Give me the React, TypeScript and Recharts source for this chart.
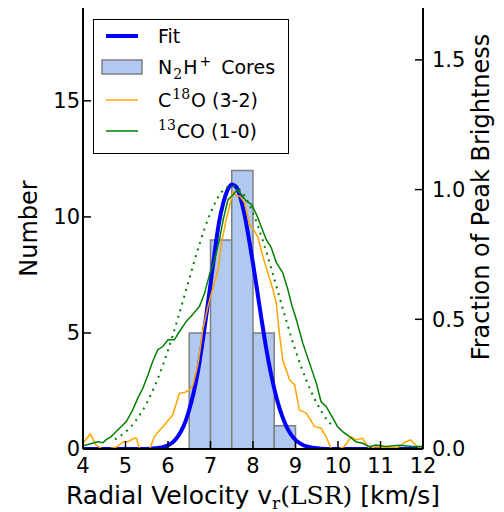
import React from 'react';
import {
  ComposedChart,
  Line,
  XAxis,
  YAxis,
  ReferenceArea,
  Legend
} from 'recharts';

// histogram of N2H+ core velocities (bin start, count)
const binStart = [6.5, 7.0, 7.5, 8.0, 8.5];
const binCount = [5, 9, 12, 5, 1];
const binWidth = 0.5;

// gaussian fit to the cores, in number of cores
const fitV = [4.0, 5.4, 5.6, 5.8, 5.9, 6.0, 6.1, 6.2, 6.3, 6.4, 6.5, 6.6, 6.7, 6.8, 6.9, 7.0, 7.1, 7.2, 7.3, 7.4, 7.5, 7.6, 7.7, 7.8, 7.9, 8.0, 8.1, 8.2, 8.3, 8.4, 8.5, 8.6, 8.7, 8.8, 8.9, 9.0, 9.1, 9.2, 9.4, 9.6, 9.8, 12.0];
const fitN = [0, 0, 0.01, 0.05, 0.09, 0.16, 0.27, 0.46, 0.74, 1.13, 1.7, 2.4, 3.3, 4.45, 5.75, 7.1, 8.5, 9.75, 10.6, 11.15, 11.4, 11.3, 10.85, 10.1, 9.1, 8.0, 6.8, 5.6, 4.45, 3.45, 2.6, 1.9, 1.35, 0.92, 0.61, 0.39, 0.25, 0.15, 0.05, 0.015, 0, 0];

// C18O (3-2) spectrum, fraction of peak
const c18oV = [4.0, 4.17, 4.31, 4.45, 4.6, 4.8, 4.95, 5.06, 5.2, 5.26, 5.33, 5.45, 5.57, 5.68, 5.81, 5.88, 6.11, 6.27, 6.39, 6.5, 6.59, 6.71, 6.82, 6.94, 7.04, 7.18, 7.26, 7.37, 7.45, 7.53, 7.61, 7.69, 7.8, 7.92, 8.04, 8.12, 8.23, 8.35, 8.47, 8.55, 8.62, 8.7, 8.86, 8.98, 9.09, 9.25, 9.45, 9.6, 9.72, 9.84, 10.0, 10.15, 10.31, 10.42, 10.58, 10.74, 10.89, 11.1, 11.4, 11.6, 11.71, 11.87, 12.0];
const c18oF = [0.022, 0.058, 0.015, 0, 0, 0.008, 0.028, 0.028, 0.041, 0.041, 0, 0, 0, 0.048, 0.073, 0.086, 0.131, 0.215, 0.218, 0.228, 0.247, 0.331, 0.46, 0.55, 0.61, 0.692, 0.795, 0.885, 0.937, 0.99, 0.975, 0.975, 0.95, 0.866, 0.84, 0.814, 0.743, 0.679, 0.615, 0.56, 0.447, 0.344, 0.267, 0.247, 0.151, 0.138, 0.086, 0.08, 0.048, 0, 0, 0.009, 0.048, 0.035, 0.041, 0, 0.009, 0.005, 0.005, 0.028, 0.035, 0.009, 0];

// 13CO (1-0) spectrum, fraction of peak
const co13V = [4.0, 4.16, 4.35, 4.47, 4.55, 4.65, 4.74, 4.86, 5.02, 5.17, 5.29, 5.41, 5.53, 5.64, 5.76, 5.88, 6.0, 6.15, 6.27, 6.43, 6.58, 6.74, 6.86, 6.98, 7.1, 7.22, 7.3, 7.41, 7.53, 7.63, 7.72, 7.84, 7.96, 8.08, 8.19, 8.31, 8.43, 8.55, 8.7, 8.82, 8.92, 9.02, 9.17, 9.33, 9.49, 9.6, 9.72, 9.84, 9.99, 10.11, 10.27, 10.42, 10.58, 10.74, 10.89, 11.13, 11.44, 11.75, 12.0];
const co13F = [0.012, 0.019, 0.028, 0.024, 0.037, 0.046, 0.061, 0.08, 0.106, 0.151, 0.196, 0.235, 0.286, 0.337, 0.383, 0.395, 0.421, 0.421, 0.453, 0.492, 0.518, 0.55, 0.6, 0.675, 0.731, 0.815, 0.885, 0.96, 0.98, 1.0, 0.982, 0.956, 0.943, 0.905, 0.859, 0.808, 0.776, 0.718, 0.679, 0.615, 0.55, 0.499, 0.409, 0.331, 0.254, 0.183, 0.164, 0.131, 0.086, 0.067, 0.048, 0.028, 0.022, 0.009, 0.015, 0.01, 0.014, 0.01, 0.01];

// dotted gaussian over the 13CO profile
const gaussV = [4.75, 5.0, 5.25, 5.5, 5.75, 6.0, 6.25, 6.5, 6.75, 7.0, 7.25, 7.5, 7.75, 8.0, 8.25, 8.5, 8.75, 9.0, 9.25, 9.5, 9.75, 9.85];
const gaussF = [0.037, 0.066, 0.111, 0.177, 0.267, 0.38, 0.513, 0.656, 0.794, 0.91, 0.988, 1.015, 0.988, 0.91, 0.794, 0.656, 0.513, 0.38, 0.267, 0.177, 0.111, 0.093];

const xTicks = [4, 5, 6, 7, 8, 9, 10, 11, 12];
const nTicks = [0, 5, 10, 15];
const fTicks = [0, 0.5, 1.0, 1.5];

const toPoints = (xs: number[], ys: number[]) => xs.map((v, i) => ({ v, y: ys[i] }));

const fitData = toPoints(fitV, fitN);
const c18oData = toPoints(c18oV, c18oF);
const co13Data = toPoints(co13V, co13F);
const gaussData = toPoints(gaussV, gaussF);

const FONT = '"DejaVu Sans", sans-serif';
const MATH = '"DejaVu Serif", serif';
const BLUE = '#0000ff';
const ORANGE = '#ffa500';
const GREEN = '#008000';
const BAR_FILL = '#b1c9f1';
const BAR_EDGE = '#7f7f7f';

const tickStyle = { fill: '#000', fontSize: 21, fontFamily: FONT };
const tickLine = { stroke: '#000', strokeWidth: 1.5 };
const axisLine = { stroke: '#000', strokeWidth: 2 };

const LegendBox = () => (
  <svg width={196} height={135} style={{ display: 'block' }}>
    <rect x={0.5} y={0.5} width={195} height={134} fill="#fff" stroke="#000" strokeWidth={1} />
    <g fontFamily={FONT} fontSize={19} fill="#000">
      <line x1={13} x2={45} y1={17} y2={17} stroke={BLUE} strokeWidth={4} />
      <text x={65} y={24}>Fit</text>

      <rect x={9} y={41} width={40} height={14} fill={BAR_FILL} stroke={BAR_EDGE} strokeWidth={1.5} />
      <text x={65} y={55}>
        N<tspan fontFamily={MATH} fontSize={14} dy={5} dx={1}>2</tspan>
        <tspan dy={-5} dx={1}>H</tspan>
        <tspan fontSize={14} dy={-8} dx={2}>+</tspan>
        <tspan dy={8} dx={10}>Cores</tspan>
      </text>

      <line x1={13} x2={45} y1={81} y2={81} stroke={ORANGE} strokeWidth={1.5} />
      <text x={65} y={88}>
        C<tspan fontFamily={MATH} fontSize={14} dy={-8} dx={1}>18</tspan>
        <tspan dy={8} dx={1}>O (3-2)</tspan>
      </text>

      <line x1={13} x2={45} y1={112} y2={112} stroke={GREEN} strokeWidth={1.5} />
      <text x={65} y={119}>
        <tspan fontFamily={MATH} fontSize={14} dy={-8}>13</tspan>
        <tspan dy={8} dx={1}>CO (1-0)</tspan>
      </text>
    </g>
  </svg>
);

const NumberLabel = (props: any) => {
  const { viewBox } = props;
  const cx = 29;
  const cy = viewBox.y + viewBox.height / 2;
  return (
    <text x={cx} y={cy} transform={`rotate(-90 ${cx} ${cy})`} textAnchor="middle" dominantBaseline="central"
      fontFamily={FONT} fontSize={24} fill="#000">
      Number
    </text>
  );
};

const FractionLabel = () => {
  const cx = 481;
  const cy = 197;
  return (
    <text x={cx} y={cy} transform={`rotate(-90 ${cx} ${cy})`} textAnchor="middle" dominantBaseline="central"
      fontFamily={FONT} fontSize={24} fill="#000">
      Fraction of Peak Brightness
    </text>
  );
};

const VelocityLabel = () => (
  <text x={253} y={504} textAnchor="middle" fontFamily={FONT} fontSize={25} fill="#000">
    Radial Velocity v
    <tspan fontFamily={MATH} fontSize={17} dy={5}>r</tspan>
    <tspan fontFamily={MATH} dy={-5}>(LSR)</tspan>
    <tspan>{' [km/s]'}</tspan>
  </text>
);

export default function App() {
  return (
    <div style={{ position: 'absolute', left: 0, top: 0, width: 504, height: 512, background: '#fff' }}>
      <ComposedChart width={504} height={512} margin={{ top: 8, right: 5, bottom: 8, left: 5 }}>
        <XAxis
          dataKey="v"
          type="number"
          domain={[4, 12]}
          ticks={xTicks}
          interval={0}
          height={55}
          tickSize={-8}
          tickMargin={17}
          tick={tickStyle}
          tickLine={tickLine}
          axisLine={axisLine}
          label={{ content: VelocityLabel }}
        />
        <XAxis
          xAxisId="top"
          dataKey="v"
          type="number"
          orientation="top"
          domain={[4, 12]}
          ticks={xTicks}
          interval={0}
          height={0}
          tickSize={-8}
          tickFormatter={() => ''}
          tickLine={tickLine}
          axisLine={axisLine}
        />
        <YAxis
          yAxisId="n"
          type="number"
          domain={[0, 19]}
          ticks={nTicks}
          interval={0}
          width={78}
          tickSize={-8}
          tickMargin={11}
          tick={tickStyle}
          tickLine={tickLine}
          axisLine={axisLine}
          allowDataOverflow
          label={{ content: NumberLabel }}
        />
        <YAxis
          yAxisId="f"
          orientation="right"
          type="number"
          domain={[0, 1.7]}
          ticks={fTicks}
          interval={0}
          width={76}
          tickSize={-8}
          tickMargin={17}
          tick={tickStyle}
          tickLine={tickLine}
          axisLine={axisLine}
          tickFormatter={(t: number) => t.toFixed(1)}
          allowDataOverflow
          label={{ content: FractionLabel }}
        />

        {binStart.map((s, i) => (
          <ReferenceArea
            key={s}
            yAxisId="n"
            x1={s}
            x2={s + binWidth}
            y1={0}
            y2={binCount[i]}
            fill={BAR_FILL}
            fillOpacity={1}
            stroke={BAR_EDGE}
            strokeWidth={1.5}
          />
        ))}

        <Line data={fitData} dataKey="y" yAxisId="n" type="monotone" stroke={BLUE} strokeWidth={4}
          dot={false} activeDot={false} isAnimationActive={false} />
        <Line data={c18oData} dataKey="y" yAxisId="f" type="linear" stroke={ORANGE} strokeWidth={1.5}
          dot={false} activeDot={false} isAnimationActive={false} />
        <Line data={co13Data} dataKey="y" yAxisId="f" type="linear" stroke={GREEN} strokeWidth={1.5}
          dot={false} activeDot={false} isAnimationActive={false} />
        <Line data={gaussData} dataKey="y" yAxisId="f" type="monotone" stroke={GREEN} strokeWidth={2}
          strokeDasharray="2 5" dot={false} activeDot={false} isAnimationActive={false} />

        <Legend
          layout="vertical"
          align="center"
          verticalAlign="middle"
          width={196}
          height={135}
          wrapperStyle={{ left: 93, top: 19, width: 196, height: 135 }}
          content={() => <LegendBox />}
        />
      </ComposedChart>
    </div>
  );
}
